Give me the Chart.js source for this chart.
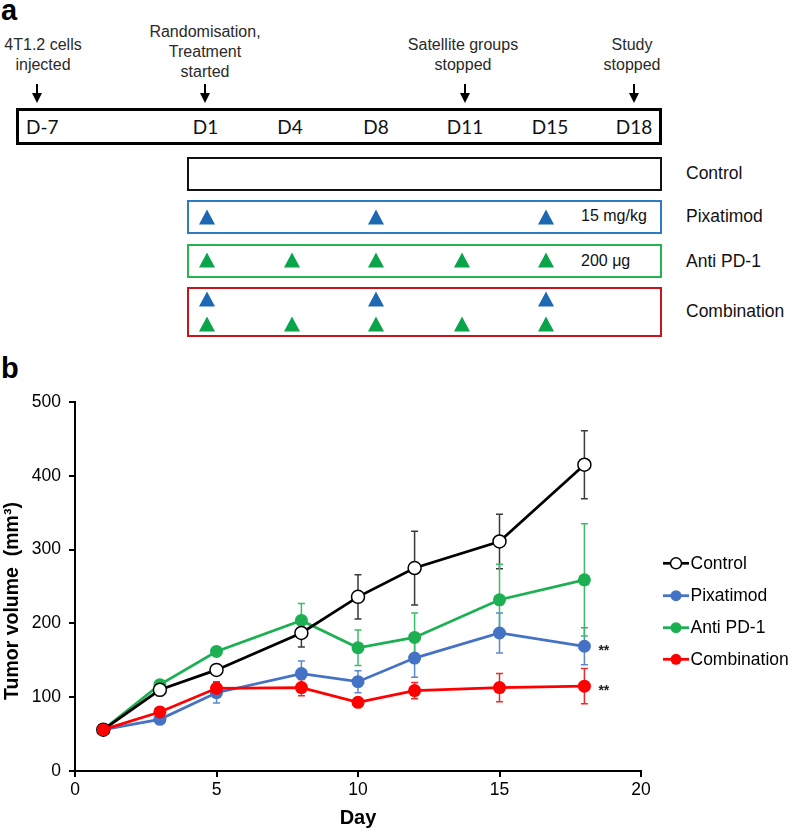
<!DOCTYPE html>
<html><head><meta charset="utf-8">
<script src="https://cdn.jsdelivr.net/npm/chart.js@4.4.1/dist/chart.umd.min.js"></script>
<style>
body{margin:0;background:#fff;}
#fig{position:relative;width:789px;height:830px;overflow:hidden;font-family:"Liberation Sans",Arial,sans-serif;color:#000;}
.panel{position:absolute;font-weight:bold;font-size:29px;line-height:29px;}
.note{position:absolute;font-size:16px;line-height:20px;color:#2a2a2a;text-align:center;white-space:nowrap;transform:translateX(-50%);}
.stem{position:absolute;width:2px;background:#000;}
.head{position:absolute;width:0;height:0;border-left:5px solid transparent;border-right:5px solid transparent;border-top:10px solid #000;}
.box{position:absolute;box-sizing:border-box;background:#fff;}
.dlab{position:absolute;font-family:Lato,"Open Sans",sans-serif;font-size:19px;line-height:20px;transform:translate(-50%,-50%);white-space:nowrap;color:#111;}
.tri{position:absolute;width:0;height:0;border-left:8.5px solid transparent;border-right:8.5px solid transparent;border-bottom-width:15px;border-bottom-style:solid;transform:translate(-50%,-50%);}
.glab{position:absolute;font-size:17.5px;line-height:20px;transform:translateY(-50%);white-space:nowrap;color:#111;}
.dose{position:absolute;font-size:16px;line-height:20px;transform:translateY(-50%);white-space:nowrap;color:#111;}
#chartWrap{position:absolute;left:0;top:340px;width:789px;height:490px;}
</style></head>
<body>
<div id="fig">
  <div class="panel" style="left:1px;top:-4px;">a</div>
  <div id="panelA"></div>
  <div class="panel" style="left:1px;top:354px;">b</div>
  <div id="chartWrap"><canvas id="c" width="789" height="490"></canvas></div>
</div>
<script>
// ---------- Panel a data ----------
const timelineLabels = ['D-7','D1','D4','D8','D11','D15','D18'];
const timelineX = [39.5,205.5,290,376,465,550,634];
const events = [
  {lines:['4T1.2 cells','injected'], at:'D-7'},
  {lines:['Randomisation,','Treatment','started'], at:'D1'},
  {lines:['Satellite groups','stopped'], at:'D11'},
  {lines:['Study','stopped'], at:'D18'}
];
const groupNames = ['Control','Pixatimod','Anti PD-1','Combination'];
const pixatimodDoseDays = ['D1','D8','D15'];
const antiPD1DoseDays = ['D1','D4','D8','D11','D15'];
const doseLabels = {'Pixatimod':'15 mg/kg','Anti PD-1':'200 \u03bcg'};

// ---------- Panel b data ----------
const days = [1,3,5,8,10,12,15,18];
const controlMean = [56,110,137,187,236,275,311,415];
const controlErr  = [0,8,5,19,30,50,37,46];
const pixatimodMean = [56,70,106,132,121,153,187,169];
const pixatimodErr  = [0,4,14,17,15,26,27,25];
const antiPD1Mean = [56,117,162,204,167,181,232,259];
const antiPD1Err  = [0,4,4,23,24,33,48,76];
const combinationMean = [56,80,112,113,93,109,113,115];
const combinationErr  = [0,3,9,11,6,11,19,24];
const xTicks = [0,5,10,15,20];
const yTicks = [0,100,200,300,400,500];
const significance = {'Pixatimod':'**','Combination':'**'};

// ---------- Build panel a ----------
const A = document.getElementById('panelA');
function el(cls, style, text){const d=document.createElement('div');d.className=cls;Object.assign(d.style,style);if(text!==undefined)d.textContent=text;A.appendChild(d);return d;}
const posOf = lab => timelineX[timelineLabels.indexOf(lab)];
// layout: where the event notes / arrows and dose triangles sit horizontally
const eventLayout = {'D-7':{note:43,arrow:37,top:35},'D1':{note:205,arrow:205,top:22},'D11':{note:463,arrow:465,top:35},'D18':{note:632,arrow:634,top:35}};
const doseX = {'D1':207,'D4':291.7,'D8':376,'D11':461.7,'D15':546};
events.forEach(ev=>{
  const L = eventLayout[ev.at];
  const n = el('note',{left:L.note+'px',top:L.top+'px'});
  n.innerHTML = ev.lines.join('<br>');
  el('stem',{left:(L.arrow-1)+'px',top:'84px',height:'11px'});
  el('head',{left:(L.arrow-5)+'px',top:'93px'});
});
el('box',{left:'16px',top:'108px',width:'646px',height:'37px',border:'3px solid #000'});
timelineLabels.forEach((l,i)=>{
  if(i===0) el('dlab',{left:'26px',top:'127px',transform:'translateY(-50%)'},l);
  else el('dlab',{left:timelineX[i]+'px',top:'127px'},l);
});
const groupBoxes = [
  {top:157,h:34,color:'#111'},
  {top:200,h:34,color:'#2F7BC3'},
  {top:244,h:34,color:'#27B34F'},
  {top:287,h:50,color:'#C4161C'}
];
const labelY = [173,216,261,311];
groupNames.forEach((g,i)=>{
  const b = groupBoxes[i];
  el('box',{left:'187px',top:b.top+'px',width:'475px',height:b.h+'px',border:'2px solid '+b.color});
  el('glab',{left:'686px',top:labelY[i]+'px'},g);
  if(doseLabels[g]) el('dose',{left:'581px',top:labelY[i]+'px'},doseLabels[g]);
});
const blueTri = '#1C68B3', greenTri = '#0AA54A';
pixatimodDoseDays.forEach(d=>{
  el('tri',{left:doseX[d]+'px',top:'217px',borderBottomColor:blueTri});
  el('tri',{left:doseX[d]+'px',top:'299px',borderBottomColor:blueTri});
});
antiPD1DoseDays.forEach(d=>{
  el('tri',{left:doseX[d]+'px',top:'260px',borderBottomColor:greenTri});
  el('tri',{left:doseX[d]+'px',top:'324px',borderBottomColor:greenTri});
});

// ---------- Panel b chart ----------
const FONT = '"Liberation Sans", Arial, sans-serif';
const series = [
  {name:'Control', mean:controlMean, err:controlErr, color:'#000000', fill:'#ffffff', errColor:'#3a3a3a'},
  {name:'Pixatimod', mean:pixatimodMean, err:pixatimodErr, color:'#4472C4', fill:'#4472C4', errColor:'#5D86CC'},
  {name:'Anti PD-1', mean:antiPD1Mean, err:antiPD1Err, color:'#1DB053', fill:'#1DB053', errColor:'#3CBB6A'},
  {name:'Combination', mean:combinationMean, err:combinationErr, color:'#FF0000', fill:'#FF0000', errColor:'#F02828'}
];
const drawOrder = {'Combination':1,'Control':2,'Pixatimod':3,'Anti PD-1':4};
const datasets = series.map(s=>({
  label:s.name,
  data:days.map((d,i)=>({x:d,y:s.mean[i]})),
  borderColor:s.color,
  backgroundColor:s.fill,
  pointBackgroundColor:s.fill,
  pointBorderColor:s.color,
  pointBorderWidth:s.name==='Control'?1.5:0,
  pointRadius:6.5,
  borderWidth:2.75,
  tension:0,
  order:drawOrder[s.name]
}));

const errorBars = {
  id:'errorBars',
  beforeDatasetsDraw(chart){
    const {ctx, scales:{x,y}} = chart;
    ctx.save();
    ctx.lineWidth = 1.5;
    series.forEach(s=>{
      ctx.strokeStyle = s.errColor;
      days.forEach((d,i)=>{
        if(!s.err[i]) return;
        const px = x.getPixelForValue(d);
        const t = y.getPixelForValue(s.mean[i]+s.err[i]);
        const b = y.getPixelForValue(s.mean[i]-s.err[i]);
        ctx.beginPath();
        ctx.moveTo(px,t);ctx.lineTo(px,b);
        ctx.moveTo(px-3.5,t);ctx.lineTo(px+3.5,t);
        ctx.moveTo(px-3.5,b);ctx.lineTo(px+3.5,b);
        ctx.stroke();
      });
    });
    ctx.restore();
  }
};

const extras = {
  id:'extras',
  afterDraw(chart){
    const {ctx, scales:{x,y}} = chart;
    ctx.save();
    // significance marks
    ctx.fillStyle = '#222';
    ctx.font = 'bold 14px '+FONT;
    ctx.textAlign = 'left';
    ctx.textBaseline = 'alphabetic';
    series.forEach(s=>{
      if(!significance[s.name]) return;
      const last = days.length-1;
      const px = x.getPixelForValue(days[last]);
      const py = y.getPixelForValue(s.mean[last]);
      ctx.fillText(significance[s.name], px+14, py+9);
    });
    // y title
    ctx.save();
    ctx.translate(13, 261);
    ctx.rotate(-Math.PI/2);
    ctx.textAlign = 'center';
    ctx.textBaseline = 'middle';
    ctx.fillStyle = '#000';
    ctx.font = 'bold 19.5px '+FONT;
    ctx.fillText('Tumor volume  (mm\u00b3)', 0, 0);
    ctx.restore();
    // legend
    const ly = [223.3,255.7,287.7,319.3];
    ctx.font = '17.5px '+FONT;
    ctx.textBaseline = 'middle';
    series.forEach((s,i)=>{
      const yy = ly[i];
      ctx.strokeStyle = s.color;
      ctx.lineWidth = 2.75;
      ctx.beginPath();ctx.moveTo(663,yy);ctx.lineTo(689,yy);ctx.stroke();
      ctx.beginPath();ctx.arc(676,yy,5.5,0,Math.PI*2);
      ctx.fillStyle = s.fill;ctx.fill();
      if(s.name==='Control'){ctx.lineWidth=1.5;ctx.strokeStyle='#000';ctx.stroke();}
      ctx.fillStyle = '#000';
      ctx.fillText(s.name, 690.5, yy+0.5);
    });
    ctx.restore();
  }
};

new Chart(document.getElementById('c').getContext('2d'), {
  type:'line',
  data:{datasets},
  options:{
    responsive:false,
    animation:false,
    devicePixelRatio:1,
    layout:{padding:{top:62,right:148,bottom:0,left:0}},
    plugins:{legend:{display:false},tooltip:{enabled:false}},
    scales:{
      x:{
        type:'linear', min:0, max:20,
        afterBuildTicks(s){s.ticks = xTicks.map(v=>({value:v}));},
        ticks:{color:'#000',font:{family:FONT,size:17.5},padding:3,maxRotation:0},
        grid:{display:true,drawOnChartArea:false,drawTicks:true,tickLength:6,tickColor:'#000',lineWidth:2},
        border:{display:true,color:'#000',width:2},
        title:{display:true,text:'Day',color:'#000',font:{family:FONT,size:20,weight:'bold'},padding:{top:0,bottom:0}},
        afterFit(s){s.height = 59;}
      },
      y:{
        type:'linear', min:0, max:500,
        afterBuildTicks(s){s.ticks = yTicks.map(v=>({value:v}));},
        ticks:{color:'#000',font:{family:FONT,size:17.5},padding:8},
        grid:{display:true,drawOnChartArea:false,drawTicks:true,tickLength:6,tickColor:'#000',lineWidth:2},
        border:{display:true,color:'#000',width:2},
        afterFit(s){s.width = 75;}
      }
    }
  },
  plugins:[errorBars, extras]
});
</script>
</body></html>
